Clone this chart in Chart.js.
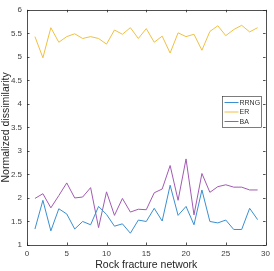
<!DOCTYPE html>
<html><head><meta charset="utf-8">
<script src="https://cdn.jsdelivr.net/npm/chart.js@4/dist/chart.umd.min.js"></script>
<style>html,body{margin:0;padding:0;background:#fff}#w{width:274px;height:271px}</style>
</head><body><div id="w"><canvas id="c"></canvas></div>
<script>
const xs = [1,2,3,4,5,6,7,8,9,10,11,12,13,14,15,16,17,18,19,20,21,22,23,24,25,26,27,28,29];
const rrng = [1.34,1.95,1.30,1.77,1.66,1.34,1.50,1.43,1.82,1.65,1.40,1.45,1.25,1.53,1.50,1.78,1.51,2.27,1.63,1.82,1.43,2.17,1.50,1.47,1.53,1.33,1.33,1.78,1.54];
const er = [5.43,4.98,5.62,5.31,5.43,5.49,5.39,5.43,5.39,5.27,5.57,5.48,5.62,5.39,5.60,5.31,5.44,5.08,5.51,5.43,5.48,5.14,5.54,5.66,5.45,5.58,5.67,5.53,5.62];
const ba = [1.99,2.09,1.79,2.05,2.32,2.00,2.02,2.22,1.37,2.13,1.63,1.99,1.70,1.76,1.75,2.11,2.19,2.69,1.95,2.83,1.64,2.52,2.12,2.24,2.28,2.23,2.23,2.17,2.17];
const seriesNames = ['RRNG','ER','BA'];
const colors = ['#3a8fd0','#f0c040','#a25ab3'];
const xTicks = [0,5,10,15,20,25,30];
const yTicks = [1,1.5,2,2.5,3,3.5,4,4.5,5,5.5,6];

const pts = v => v.map((y,i)=>({x:xs[i],y}));
const font = "'Liberation Sans', Arial, sans-serif";

const frame = {
  id:'frame',
  afterDraw(ch){
    const c=ch.ctx, a=ch.chartArea, sx=ch.scales.x, sy=ch.scales.y;
    c.save();
    c.strokeStyle='#262626'; c.lineWidth=0.8;
    c.strokeRect(Math.round(a.left)+0.5,Math.round(a.top)+0.5,Math.round(a.right-a.left),Math.round(a.bottom-a.top));
    c.beginPath();
    xTicks.forEach(v=>{const p=Math.round(sx.getPixelForValue(v))+0.5;c.moveTo(p,a.bottom);c.lineTo(p,a.bottom-2.5);c.moveTo(p,a.top);c.lineTo(p,a.top+2.5);});
    yTicks.forEach(v=>{const p=Math.round(sy.getPixelForValue(v))+0.5;c.moveTo(a.left,p);c.lineTo(a.left+2.5,p);c.moveTo(a.right,p);c.lineTo(a.right-2.5,p);});
    c.stroke();
    // legend
    const lx=222.5, ly=96.5, lw=39, lh=31;
    c.fillStyle='#fff'; c.fillRect(lx,ly,lw,lh);
    c.strokeStyle='#262626'; c.lineWidth=0.6; c.strokeRect(lx,ly,lw,lh);
    c.font='7px '+font; c.textBaseline='middle'; c.textAlign='left';
    ch.data.datasets.forEach((d,i)=>{
      const yy=ly+6+i*9.5;
      c.strokeStyle=d.borderColor; c.lineWidth=1; c.beginPath(); c.moveTo(lx+2,yy); c.lineTo(lx+16,yy); c.stroke();
      c.fillStyle='#333'; c.fillText(d.label,lx+17,yy+0.5);
    });
    c.restore();
  }
};

new Chart(document.getElementById('c'),{
  type:'line',
  data:{datasets:[
    {label:seriesNames[0],data:pts(rrng),borderColor:colors[0],borderWidth:1,pointRadius:0,tension:0},
    {label:seriesNames[1],data:pts(er),borderColor:colors[1],borderWidth:1,pointRadius:0,tension:0},
    {label:seriesNames[2],data:pts(ba),borderColor:colors[2],borderWidth:1,pointRadius:0,tension:0}
  ]},
  options:{
    responsive:true,maintainAspectRatio:false,animation:false,
    layout:{padding:{top:3,right:7,left:0,bottom:0}},
    plugins:{legend:{display:false},tooltip:{enabled:false}},
    scales:{
      x:{type:'linear',min:0,max:30,
        afterBuildTicks(s){s.ticks=xTicks.map(v=>({value:v}));},
        afterFit(s){s.height=26;},
        grid:{display:false,drawTicks:false},border:{display:false},
        ticks:{font:{family:font,size:8},color:'#404040',padding:4,maxRotation:0,callback:v=>String(v)},
        title:{display:true,text:'Rock fracture network',font:{family:font,size:10.5},color:'#262626',padding:{top:1,bottom:0}}},
      y:{type:'linear',min:1,max:6,
        afterBuildTicks(s){s.ticks=yTicks.map(v=>({value:v}));},
        afterFit(s){s.width=27;},
        grid:{display:false,drawTicks:false},border:{display:false},
        ticks:{font:{family:font,size:8},color:'#404040',padding:5,callback:v=>String(v)},
        title:{display:true,text:'Normalized dissimilarity',font:{family:font,size:10.5},color:'#262626',padding:{top:0,bottom:0}}}
    }
  },
  plugins:[frame]
});
</script></body></html>
